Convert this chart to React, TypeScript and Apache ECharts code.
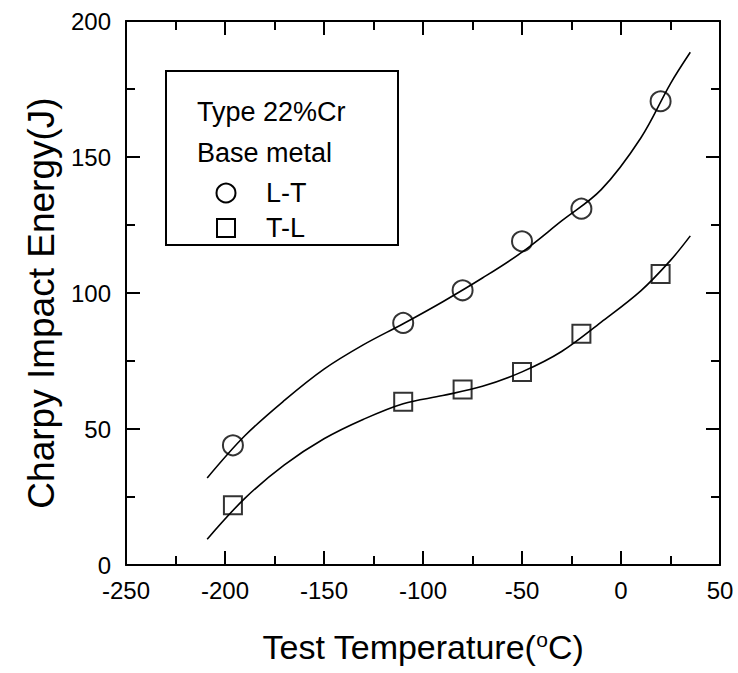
import React, { useEffect, useRef } from "react";
import * as echarts from "echarts";

// Measured points (Test temperature °C, Charpy impact energy J)
const ltPoints: [number, number][] = [
  [-196, 44], [-110, 89], [-80, 101], [-50, 119], [-20, 131], [20, 170.5],
];
const tlPoints: [number, number][] = [
  [-196, 22], [-110, 60], [-80, 64.5], [-50, 71], [-20, 85], [20, 107],
];
// Fitted curves
const ltCurve: [number, number][] = [
  [-209, 32], [-190, 47.5], [-170, 60.5], [-150, 72], [-130, 81], [-110, 88.7],
  [-90, 96.8], [-70, 105.5], [-50, 115], [-30, 126.5], [-10, 138], [10, 157],
  [25, 177], [35, 188.5],
];
const tlCurve: [number, number][] = [
  [-209, 9.5], [-190, 24.5], [-170, 36.8], [-150, 46.4], [-130, 53.6], [-110, 59.3],
  [-90, 62.3], [-70, 65.7], [-50, 71], [-30, 78.5], [-10, 89.3], [10, 100.8],
  [25, 112], [35, 121],
];
const xTicks = { min: -250, max: 50, interval: 50 };
const yTicks = { min: 0, max: 200, interval: 50 };
const legendTitle = ["Type 22%Cr", "Base metal"];
const seriesNames = ["L-T", "T-L"];

const FONT = "'Liberation Sans', Arial, Helvetica, sans-serif";

export default function App() {
  const ref = useRef<HTMLDivElement>(null);
  useEffect(() => {
    if (!ref.current) return;
    const chart = echarts.init(ref.current, undefined, { renderer: "svg" });
    const axisCommon = {
      type: "value" as const,
      axisLine: { show: true, onZero: false, lineStyle: { color: "#000", width: 2 } },
      axisTick: { show: true, inside: true, length: 14, lineStyle: { color: "#000", width: 2 } },
      minorTick: { show: true, splitNumber: 2, length: 9, lineStyle: { color: "#000", width: 2 } },
      splitLine: { show: false },
      minorSplitLine: { show: false },
    };
    const labelStyle = { color: "#000", fontFamily: FONT, fontSize: 24 };
    const option: any = {
      animation: false,
      backgroundColor: "#fff",
      grid: { left: 126, right: 18, top: 21, bottom: 108, containLabel: false },
      xAxis: [
        {
          ...axisCommon, ...xTicks, position: "bottom",
          axisLabel: { ...labelStyle, margin: 13 },
          name: "{a|Test Temperature(}{s|o}{a|C)}",
          nameLocation: "middle", nameGap: 64,
          nameTextStyle: {
            color: "#000", fontFamily: FONT, fontSize: 34,
            rich: {
              a: { fontSize: 34, fontFamily: FONT, color: "#000" },
              s: { fontSize: 21, fontFamily: FONT, color: "#000", padding: [0, 0, 15, 0] },
            },
          },
        },
        { ...axisCommon, ...xTicks, position: "top", axisLabel: { show: false } },
      ],
      yAxis: [
        {
          ...axisCommon, ...yTicks, position: "left",
          axisLabel: { ...labelStyle, margin: 15 },
          name: "Charpy Impact Energy(J)",
          nameLocation: "middle", nameGap: 66,
          nameTextStyle: { color: "#000", fontFamily: FONT, fontSize: 37, padding: [0, 20, 0, 0] },
        },
        { ...axisCommon, ...yTicks, position: "right", axisLabel: { show: false } },
      ],
      series: [
        {
          type: "line", name: "L-T fit", data: ltCurve, smooth: 0.35,
          symbol: "none", lineStyle: { color: "#000", width: 1.6 }, z: 2,
        },
        {
          type: "line", name: "T-L fit", data: tlCurve, smooth: 0.35,
          symbol: "none", lineStyle: { color: "#000", width: 1.6 }, z: 2,
        },
        {
          type: "scatter", name: seriesNames[0], data: ltPoints, symbol: "circle", symbolSize: 20,
          itemStyle: { color: "rgba(0,0,0,0)", borderColor: "#000", borderWidth: 2 }, z: 3,
        },
        {
          type: "scatter", name: seriesNames[1], data: tlPoints, symbol: "rect", symbolSize: 18,
          itemStyle: { color: "rgba(0,0,0,0)", borderColor: "#000", borderWidth: 2 }, z: 3,
        },
      ],
      graphic: [
        {
          type: "rect", shape: { x: 166, y: 71, width: 232, height: 174 },
          style: { fill: "#fff", stroke: "#000", lineWidth: 2 }, z: 10,
        },
        {
          type: "text", x: 197, y: 112, z: 11,
          style: { text: legendTitle[0], fill: "#000", font: `27px ${FONT}`, verticalAlign: "middle" },
        },
        {
          type: "text", x: 197, y: 153, z: 11,
          style: { text: legendTitle[1], fill: "#000", font: `27px ${FONT}`, verticalAlign: "middle" },
        },
        {
          type: "circle", shape: { cx: 226, cy: 193, r: 9.5 }, z: 11,
          style: { fill: "none", stroke: "#000", lineWidth: 2 },
        },
        {
          type: "text", x: 266, y: 193, z: 11,
          style: { text: seriesNames[0], fill: "#000", font: `27px ${FONT}`, verticalAlign: "middle" },
        },
        {
          type: "rect", shape: { x: 217, y: 219, width: 18, height: 18 }, z: 11,
          style: { fill: "none", stroke: "#000", lineWidth: 2 },
        },
        {
          type: "text", x: 266, y: 228, z: 11,
          style: { text: seriesNames[1], fill: "#000", font: `27px ${FONT}`, verticalAlign: "middle" },
        },
      ],
    };
    chart.setOption(option);
    return () => chart.dispose();
  }, []);
  return (
    <div
      ref={ref}
      style={{ position: "fixed", left: 0, top: 0, width: 738, height: 673, background: "#fff" }}
    />
  );
}
